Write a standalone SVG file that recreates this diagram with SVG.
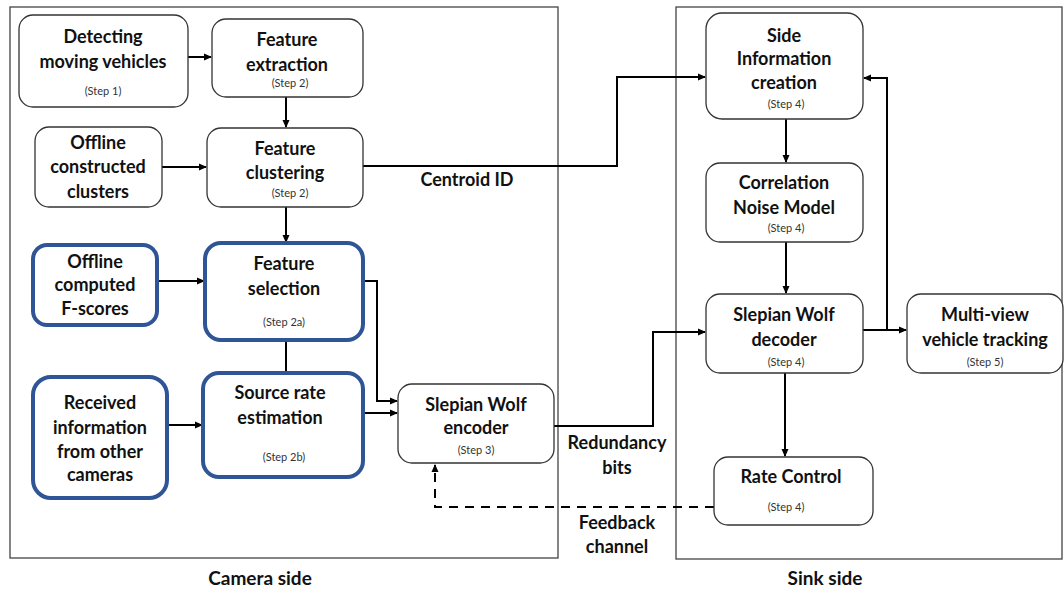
<svg xmlns="http://www.w3.org/2000/svg" width="1064" height="589" viewBox="0 0 1064 589">
<style>
.frame{fill:none;stroke:#444;stroke-width:1.3}
.box{fill:#fff;stroke:#333;stroke-width:1.3}
.bbox{fill:#fff;stroke:#2f5597;stroke-width:4}
.t{font-family:Lato,"Liberation Sans",sans-serif;font-weight:bold;font-size:18px;fill:#111;text-anchor:middle}
.big{font-size:19px}
.s{font-family:Lato,"Liberation Sans",sans-serif;font-size:11px;fill:#333;text-anchor:middle}
.c{fill:none;stroke:#000;stroke-width:2}
.d{fill:none;stroke:#000;stroke-width:2;stroke-dasharray:9 7}
</style>
<defs>
<marker id="a" markerWidth="8" markerHeight="8" refX="7" refY="4" orient="auto" markerUnits="userSpaceOnUse">
<path d="M0,0.5 L8,4 L0,7.5 Z" fill="#000"/>
</marker>
</defs>
<rect class="frame" x="10" y="7" width="548" height="551"/>
<rect class="frame" x="676" y="7" width="386" height="552"/>
<g id="connectors">
<line class="c" x1="188" y1="57" x2="211" y2="57" marker-end="url(#a)"/>
<line class="c" x1="286" y1="97" x2="286" y2="127" marker-end="url(#a)"/>
<line class="c" x1="162" y1="167" x2="206" y2="167" marker-end="url(#a)"/>
<line class="c" x1="286" y1="207" x2="286" y2="242" marker-end="url(#a)"/>
<polyline class="c" points="363,166 617,166 617,77 705,77" marker-end="url(#a)"/>
<line class="c" x1="157" y1="281" x2="204" y2="281" marker-end="url(#a)"/>
<line class="c" x1="286" y1="340" x2="286" y2="372"/>
<polyline class="c" points="363,281 377,281 377,401 397,401" marker-end="url(#a)"/>
<line class="c" x1="167" y1="425" x2="202" y2="425" marker-end="url(#a)"/>
<line class="c" x1="363" y1="413" x2="397" y2="413" marker-end="url(#a)"/>
<polyline class="c" points="554,426 653,426 653,332 705,332" marker-end="url(#a)"/>
<line class="c" x1="863" y1="330" x2="906" y2="330" marker-end="url(#a)"/>
<polyline class="c" points="887,330 887,78 864,78" marker-end="url(#a)"/>
<line class="c" x1="786" y1="119" x2="786" y2="162" marker-end="url(#a)"/>
<line class="c" x1="786" y1="242" x2="786" y2="293" marker-end="url(#a)"/>
<line class="c" x1="785" y1="373" x2="785" y2="456" marker-end="url(#a)"/>
<polyline class="d" points="714,507 435,507 435,465" marker-end="url(#a)"/>
</g>
<g id="n1"><rect class="box" x="19" y="15" width="169" height="92" rx="14"/>
<text class="t" x="103" y="43">Detecting</text><text class="t" x="103" y="68">moving vehicles</text><text class="s" x="103" y="95">(Step 1)</text></g>
<g id="n2"><rect class="box" x="212" y="19" width="151" height="78" rx="14"/>
<text class="t" x="287" y="46">Feature</text><text class="t" x="287" y="71">extraction</text><text class="s" x="290" y="87">(Step 2)</text></g>
<g id="n3"><rect class="box" x="35" y="127" width="127" height="80" rx="14"/>
<text class="t" x="98" y="149">Offline</text><text class="t" x="98" y="173">constructed</text><text class="t" x="98" y="198">clusters</text></g>
<g id="n4"><rect class="box" x="207" y="128" width="156" height="79" rx="14"/>
<text class="t" x="285" y="155">Feature</text><text class="t" x="285" y="179">clustering</text><text class="s" x="290" y="197">(Step 2)</text></g>
<g id="n5"><rect class="bbox" x="33" y="245" width="124" height="80" rx="14"/>
<text class="t" x="95" y="268">Offline</text><text class="t" x="95" y="291">computed</text><text class="t" x="95" y="315">F-scores</text></g>
<g id="n6"><rect class="bbox" x="205" y="243" width="158" height="97" rx="16"/>
<text class="t" x="284" y="270">Feature</text><text class="t" x="284" y="295">selection</text><text class="s" x="284" y="326">(Step 2a)</text></g>
<g id="n7"><rect class="bbox" x="33" y="377" width="134" height="121" rx="18"/>
<text class="t" x="100" y="409">Received</text><text class="t" x="100" y="434">information</text><text class="t" x="100" y="458">from other</text><text class="t" x="100" y="481">cameras</text></g>
<g id="n8"><rect class="bbox" x="203" y="373" width="160" height="104" rx="16"/>
<text class="t" x="280" y="399">Source rate</text><text class="t" x="280" y="424">estimation</text><text class="s" x="284" y="461">(Step 2b)</text></g>
<g id="n9"><rect class="box" x="398" y="384" width="156" height="79" rx="14"/>
<text class="t" x="476" y="411">Slepian Wolf</text><text class="t" x="476" y="434">encoder</text><text class="s" x="476" y="454">(Step 3)</text></g>
<g id="n10"><rect class="box" x="706" y="13" width="157" height="106" rx="16"/>
<text class="t" x="784" y="42">Side</text><text class="t" x="784" y="65">Information</text><text class="t" x="784" y="89">creation</text><text class="s" x="786" y="108">(Step 4)</text></g>
<g id="n11"><rect class="box" x="706" y="163" width="157" height="79" rx="14"/>
<text class="t" x="784" y="189">Correlation</text><text class="t" x="784" y="214">Noise Model</text><text class="s" x="786" y="232">(Step 4)</text></g>
<g id="n12"><rect class="box" x="706" y="294" width="157" height="79" rx="14"/>
<text class="t" x="784" y="321">Slepian Wolf</text><text class="t" x="784" y="346">decoder</text><text class="s" x="786" y="366">(Step 4)</text></g>
<g id="n13"><rect class="box" x="907" y="294" width="156" height="79" rx="14"/>
<text class="t" x="985" y="321">Multi-view</text><text class="t" x="985" y="346">vehicle tracking</text><text class="s" x="985" y="366">(Step 5)</text></g>
<g id="n14"><rect class="box" x="714" y="457" width="159" height="68" rx="14"/>
<text class="t" x="791" y="483">Rate Control</text><text class="s" x="786" y="511">(Step 4)</text></g>
<g id="labels">
<text class="t" x="467" y="186">Centroid ID</text>
<text class="t" x="617" y="449">Redundancy</text><text class="t" x="617" y="474">bits</text>
<text class="t" x="617" y="529">Feedback</text><text class="t" x="617" y="553">channel</text>
<text class="t big" x="260" y="585">Camera side</text>
<text class="t big" x="825" y="585">Sink side</text>
</g>
</svg>
